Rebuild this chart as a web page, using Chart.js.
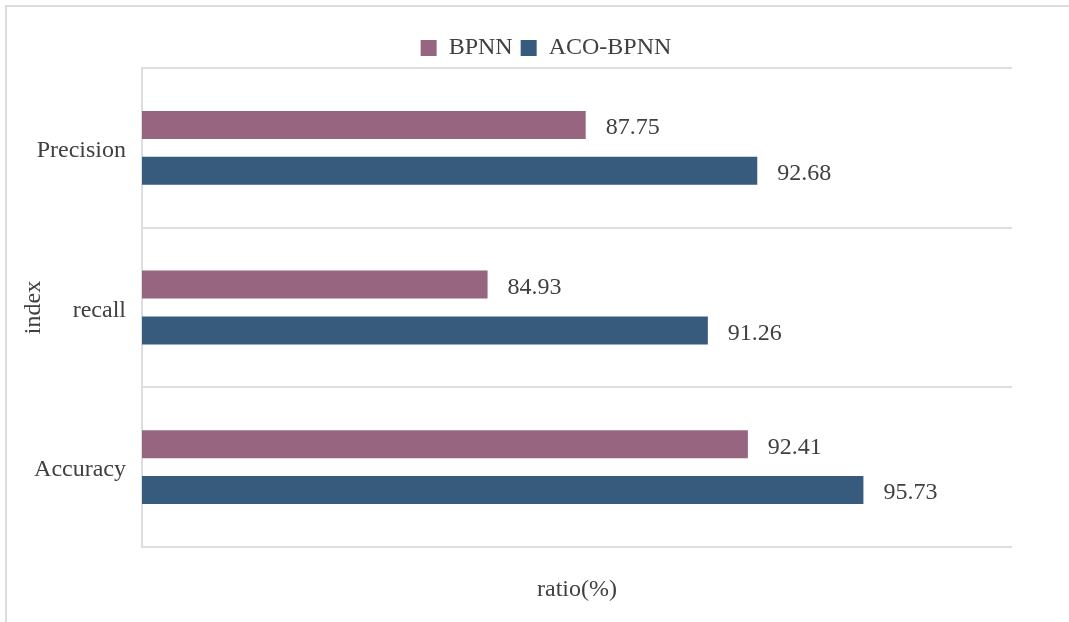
<!DOCTYPE html>
<html>
<head>
<meta charset="utf-8">
<script src="https://cdn.jsdelivr.net/npm/chart.js@4.4.1/dist/chart.umd.min.js"></script>
<style>
  html, body { margin: 0; padding: 0; background: #fff; overflow: hidden; }
  #frame {
    position: absolute; left: 5px; top: 5px; width: 1200px; height: 800px;
    border: 2px solid #dcdcdc;
  }
  #chart { position: absolute; left: 0; top: 0; }
</style>
</head>
<body>
<div id="frame"></div>
<canvas id="chart" width="1069" height="622"></canvas>
<script>
// ============================
// DATA
// ============================
const categories = ["Precision", "recall", "Accuracy"];
const bpnn = [87.75, 84.93, 92.41];
const acoBpnn = [92.68, 91.26, 95.73];
const seriesNames = ["BPNN", "ACO-BPNN"];

const FONT = "'Liberation Serif', 'Times New Roman', serif";
const TEXT = "#404040";
const GRID = "#dedede";

Chart.defaults.font.family = FONT;
Chart.defaults.color = TEXT;

// legend: fixed height so the plot starts where the reference does
const legendBox = {
    id: "legendBox",
    beforeInit(chart) {
        const fit = chart.legend.fit;
        chart.legend.fit = function () {
            fit.call(this);
            this.height = 40;
        };
    },
    afterLayout(chart) {
        // nudge legend a little to the right like the original
        chart.legend.left += 40;
        chart.legend.right += 40;
    }
};

// value labels to the right of each bar
const valueLabels = {
    id: "valueLabels",
    afterDatasetsDraw(chart) {
        const ctx = chart.ctx;
        ctx.save();
        ctx.font = "24px " + FONT;
        ctx.fillStyle = TEXT;
        ctx.textAlign = "left";
        ctx.textBaseline = "middle";
        chart.data.datasets.forEach((ds, i) => {
            chart.getDatasetMeta(i).data.forEach((bar, j) => {
                ctx.fillText(ds.data[j].toFixed(2), bar.x + 20, bar.y + 3);
            });
        });
        ctx.restore();
    }
};

new Chart(document.getElementById("chart"), {
    type: "bar",
    data: {
        labels: categories,
        datasets: [
            {
                label: seriesNames[0],
                data: bpnn,
                backgroundColor: "#97657f",
                categoryPercentage: 0.575,
                barPercentage: 0.61
            },
            {
                label: seriesNames[1],
                data: acoBpnn,
                backgroundColor: "#375b7c",
                categoryPercentage: 0.575,
                barPercentage: 0.61
            }
        ]
    },
    options: {
        indexAxis: "y",
        responsive: false,
        animation: false,
        layout: { padding: { top: 28, right: 57, left: 0, bottom: 0 } },
        plugins: {
            legend: {
                position: "top",
                labels: {
                    boxWidth: 16,
                    boxHeight: 16,
                    padding: 8,
                    color: TEXT,
                    font: { size: 24 }
                }
            },
            tooltip: { enabled: false }
        },
        scales: {
            x: {
                min: 75,
                max: 100,
                ticks: { display: false },
                grid: { display: false },
                border: { display: false },
                title: {
                    display: true,
                    text: "ratio(%)",
                    color: TEXT,
                    font: { size: 24 },
                    padding: { top: 0, bottom: 18 }
                },
                afterFit: (scale) => { scale.height = 75; }
            },
            y: {
                grid: { color: GRID, lineWidth: 2, drawTicks: false, offset: true },
                border: { display: true, color: GRID, width: 2 },
                ticks: { color: TEXT, font: { size: 24 }, padding: 16, labelOffset: 3 },
                title: {
                    display: true,
                    text: "index",
                    color: TEXT,
                    font: { size: 24 },
                    padding: { top: 19, bottom: 0 }
                },
                afterFit: (scale) => { scale.width = 142; }
            }
        }
    },
    plugins: [legendBox, valueLabels]
});
</script>
</body>
</html>
